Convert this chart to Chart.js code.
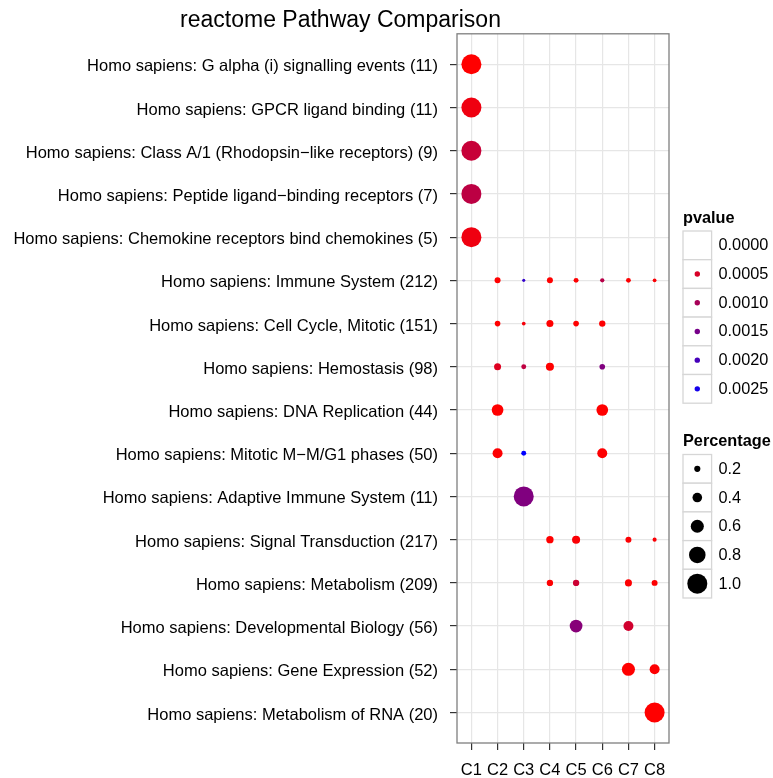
<!DOCTYPE html>
<html>
<head>
<meta charset="utf-8">
<script src="https://cdn.jsdelivr.net/npm/chart.js@4/dist/chart.umd.min.js"></script>
<style>
  html, body { margin: 0; padding: 0; background: #ffffff; }
  #wrap { position: relative; width: 773px; height: 778px; }
</style>
</head>
<body>
<div id="wrap"><canvas id="c" width="773" height="778"></canvas></div>
<script>
// ---- data ----
const chartTitle = 'reactome Pathway Comparison';
const pathways = [
  'Homo sapiens: G alpha (i) signalling events (11)',
  'Homo sapiens: GPCR ligand binding (11)',
  'Homo sapiens: Class A/1 (Rhodopsin\u2212like receptors) (9)',
  'Homo sapiens: Peptide ligand\u2212binding receptors (7)',
  'Homo sapiens: Chemokine receptors bind chemokines (5)',
  'Homo sapiens: Immune System (212)',
  'Homo sapiens: Cell Cycle, Mitotic (151)',
  'Homo sapiens: Hemostasis (98)',
  'Homo sapiens: DNA Replication (44)',
  'Homo sapiens: Mitotic M\u2212M/G1 phases (50)',
  'Homo sapiens: Adaptive Immune System (11)',
  'Homo sapiens: Signal Transduction (217)',
  'Homo sapiens: Metabolism (209)',
  'Homo sapiens: Developmental Biology (56)',
  'Homo sapiens: Gene Expression (52)',
  'Homo sapiens: Metabolism of RNA (20)'
];
const clusters = ['C1', 'C2', 'C3', 'C4', 'C5', 'C6', 'C7', 'C8'];

// Percentage per pathway (rows) x cluster (columns); null = no point
const percentage = [
  [1.00, null, null, null, null, null, null, null],
  [1.00, null, null, null, null, null, null, null],
  [1.00, null, null, null, null, null, null, null],
  [1.00, null, null, null, null, null, null, null],
  [1.00, null, null, null, null, null, null, null],
  [null, 0.19, 0.02, 0.19, 0.13, 0.09, 0.12, 0.06],
  [null, 0.17, 0.06, 0.25, 0.17, 0.21, null, null],
  [null, 0.25, 0.13, 0.31, null, 0.17, null, null],
  [null, 0.52, null, null, null, 0.52, null, null],
  [null, 0.42, 0.13, null, null, 0.42, null, null],
  [null, null, 1.00, null, null, null, null, null],
  [null, null, null, 0.27, 0.31, null, 0.19, 0.08],
  [null, null, null, 0.21, 0.21, null, 0.25, 0.19],
  [null, null, null, null, 0.58, null, 0.42, null],
  [null, null, null, null, null, null, 0.60, 0.42],
  [null, null, null, null, null, null, null, 1.00]
];
// p-value per pathway x cluster
const pvalue = [
  [0.00010, null, null, null, null, null, null, null],
  [0.00026, null, null, null, null, null, null, null],
  [0.00067, null, null, null, null, null, null, null],
  [0.00078, null, null, null, null, null, null, null],
  [0.00026, null, null, null, null, null, null, null],
  [null, 0.00010, 0.00218, 0.00010, 0.00012, 0.00083, 0.00012, 0.00015],
  [null, 0.00010, 0.00020, 0.00010, 0.00010, 0.00012, null, null],
  [null, 0.00044, 0.00075, 0.00010, null, 0.00140, null, null],
  [null, 0.00010, null, null, null, 0.00010, null, null],
  [null, 0.00012, 0.00270, null, null, 0.00012, null, null],
  [null, null, 0.00140, null, null, null, null, null],
  [null, null, null, 0.00010, 0.00015, null, 0.00013, 0.00015],
  [null, null, null, 0.00012, 0.00062, null, 0.00012, 0.00012],
  [null, null, null, null, 0.00132, null, 0.00057, null],
  [null, null, null, null, null, null, 0.00010, 0.00012],
  [null, null, null, null, null, null, null, 0.00010]
];
const pvalueBreaks = ['0.0000', '0.0005', '0.0010', '0.0015', '0.0020', '0.0025'];
const percentageBreaks = ['0.2', '0.4', '0.6', '0.8', '1.0'];

// ---- scales for colour / size ----
const pLimits = [0.0001, 0.0027];
function colourOf(p) {
  const t = Math.max(0, Math.min(1, (p - pLimits[0]) / (pLimits[1] - pLimits[0])));
  const r = Math.round(255 * (1 - t)), b = Math.round(255 * t);
  return 'rgb(' + r + ',0,' + b + ')';
}
function radiusOf(pct) { return (2.7 + 17.3 * pct) / 2; }

const points = [];
pathways.forEach((name, i) => {
  clusters.forEach((cl, j) => {
    const pct = percentage[i][j];
    if (pct !== null) points.push({ x: j + 1, y: i + 1, pct: pct, p: pvalue[i][j] });
  });
});

const FONT = "'Liberation Sans', Arial, Helvetica, sans-serif";

const panelAndLegend = {
  id: 'panelAndLegend',
  afterDraw(chart) {
    const ctx = chart.ctx, a = chart.chartArea;
    ctx.save();
    // panel border
    ctx.strokeStyle = '#7f7f7f';
    ctx.lineWidth = 1.3;
    ctx.strokeRect(a.left, a.top, a.right - a.left, a.bottom - a.top);

    // legends
    const lx = 683, kw = 28.6, kh = 28.7, tx = 718.5;
    ctx.textBaseline = 'middle';
    ctx.textAlign = 'left';
    // pvalue legend
    ctx.fillStyle = '#000';
    ctx.font = 'bold 16.3px ' + FONT;
    ctx.fillText('pvalue', lx, 218.5);
    let top = 231;
    pvalueBreaks.forEach((lab, k) => {
      const y = top + k * kh;
      ctx.fillStyle = '#ffffff';
      ctx.fillRect(lx, y, kw, kh);
      ctx.strokeStyle = '#d6d6d6';
      ctx.lineWidth = 1.3;
      ctx.strokeRect(lx, y, kw, kh);
      const v = parseFloat(lab);
      if (v >= pLimits[0] && v <= pLimits[1]) {
        ctx.fillStyle = colourOf(v);
        ctx.beginPath();
        ctx.arc(lx + kw / 2, y + kh / 2, 2.7, 0, Math.PI * 2);
        ctx.fill();
      }
      ctx.fillStyle = '#000';
      ctx.font = '16.3px ' + FONT;
      ctx.fillText(lab, tx, y + kh / 2 + 0.5);
    });
    // percentage legend
    ctx.fillStyle = '#000';
    ctx.font = 'bold 16.3px ' + FONT;
    ctx.fillText('Percentage', lx, 441.5);
    top = 454.5;
    percentageBreaks.forEach((lab, k) => {
      const y = top + k * kh;
      ctx.fillStyle = '#ffffff';
      ctx.fillRect(lx, y, kw, kh);
      ctx.strokeStyle = '#d6d6d6';
      ctx.lineWidth = 1.3;
      ctx.strokeRect(lx, y, kw, kh);
      ctx.fillStyle = '#000';
      ctx.beginPath();
      ctx.arc(lx + kw / 2, y + kh / 2, radiusOf(parseFloat(lab)), 0, Math.PI * 2);
      ctx.fill();
      ctx.font = '16.3px ' + FONT;
      ctx.fillText(lab, tx, y + kh / 2 + 0.5);
    });
    ctx.restore();
  }
};

new Chart(document.getElementById('c'), {
  type: 'scatter',
  data: {
    datasets: [{
      data: points,
      pointRadius: c => radiusOf(c.raw.pct),
      pointHoverRadius: c => radiusOf(c.raw.pct),
      pointBackgroundColor: c => colourOf(c.raw.p),
      pointBorderWidth: 0,
      pointBorderColor: 'rgba(0,0,0,0)'
    }]
  },
  options: {
    responsive: false,
    animation: false,
    events: [],
    layout: { padding: { left: 12, right: 104, top: 0, bottom: 0 } },
    plugins: {
      legend: { display: false },
      tooltip: { enabled: false },
      title: {
        display: true,
        text: chartTitle,
        color: '#000',
        font: { family: FONT, size: 23, weight: 'normal', lineHeight: 1.1 },
        padding: { top: 8.5, bottom: 0 }
      }
    },
    scales: {
      x: {
        type: 'linear',
        min: 0.45, max: 8.55,
        afterBuildTicks: s => { s.ticks = clusters.map((_, j) => ({ value: j + 1 })); },
        afterFit: s => { s.height = 35; },
        ticks: {
          callback: v => clusters[v - 1],
          color: '#000',
          font: { family: FONT, size: 16.5 },
          padding: 11,
          maxRotation: 0,
          autoSkip: false
        },
        grid: { color: '#e6e6e6', lineWidth: 1.2, tickColor: '#333', tickLength: 7, tickWidth: 1.2 },
        border: { display: false }
      },
      y: {
        type: 'linear',
        reverse: true,
        min: 0.295, max: 16.705,
        afterBuildTicks: s => { s.ticks = pathways.map((_, i) => ({ value: i + 1 })); },
        afterFit: s => { s.width = 445; },
        ticks: {
          callback: v => pathways[v - 1],
          color: '#000',
          font: { family: FONT, size: 16.5 },
          padding: 12,
          labelOffset: 2.5,
          autoSkip: false
        },
        grid: { color: '#e6e6e6', lineWidth: 1.2, tickColor: '#333', tickLength: 7, tickWidth: 1.2 },
        border: { display: false }
      }
    }
  },
  plugins: [panelAndLegend]
});
</script>
</body>
</html>
